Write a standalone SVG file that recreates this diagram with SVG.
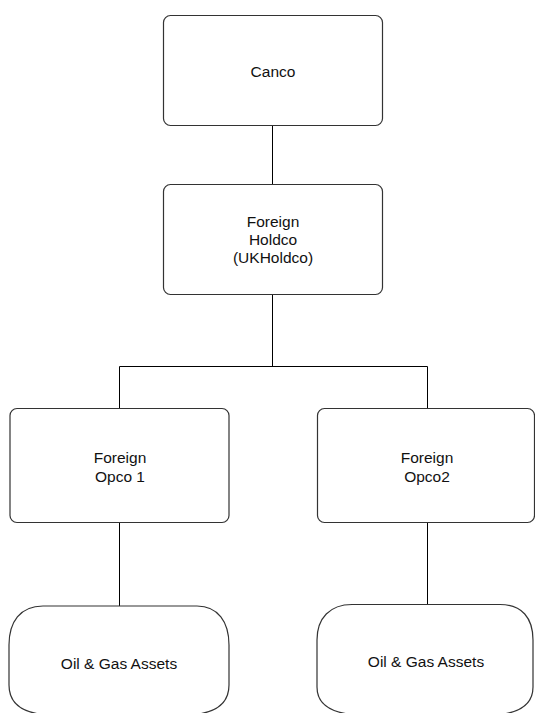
<svg xmlns="http://www.w3.org/2000/svg" width="535" height="713" viewBox="0 0 535 713">
<style>
.box{fill:#fff;stroke:#333;stroke-width:1.2}
.t{font-family:"Liberation Sans",Arial,sans-serif;font-size:15.5px;fill:#111;text-anchor:middle;dominant-baseline:central}
.c{stroke:#000;stroke-width:1;fill:none}
</style>
<rect width="535" height="713" fill="#fff"/>
<g id="connectors">
<path class="c" d="M272.5 126V184"/>
<path class="c" d="M272.5 295V366.5M119.5 408V366.5H427.5V408"/>
<path class="c" d="M119.5 522V606"/>
<path class="c" d="M427.5 522V604"/>
</g>
<g id="canco">
<rect class="box" x="163.5" y="15.5" width="219" height="110" rx="7"/>
<text class="t" x="273" y="71">Canco</text>
</g>
<g id="holdco">
<rect class="box" x="163.5" y="184.5" width="219" height="110" rx="7"/>
<text class="t" x="273" y="221">Foreign</text>
<text class="t" x="273" y="239">Holdco</text>
<text class="t" x="273" y="257">(UKHoldco)</text>
</g>
<g id="opco1">
<rect class="box" x="10" y="408.5" width="219" height="114" rx="7"/>
<text class="t" x="120" y="457">Foreign</text>
<text class="t" x="120" y="476">Opco 1</text>
</g>
<g id="opco2">
<rect class="box" x="317.5" y="408.5" width="217" height="114" rx="7"/>
<text class="t" x="427" y="457">Foreign</text>
<text class="t" x="427" y="476">Opco2</text>
</g>
<g id="assets1">
<path class="box" d="M43 606H197C218 606 229 622 229 645V685C229 702 218 712 195 714.5H43C20 712 9 702 9 685V645C9 622 20 606 43 606Z"/>
<text class="t" x="119" y="663">Oil &amp; Gas Assets</text>
</g>
<g id="assets2">
<path class="box" d="M352 604.5H500C522 604.5 533 618 533 640V687C533 703 522 712 500 714.5H352C328 712 317 703 317 687V640C317 618 330 604.5 352 604.5Z"/>
<text class="t" x="426" y="661">Oil &amp; Gas Assets</text>
</g>
</svg>
